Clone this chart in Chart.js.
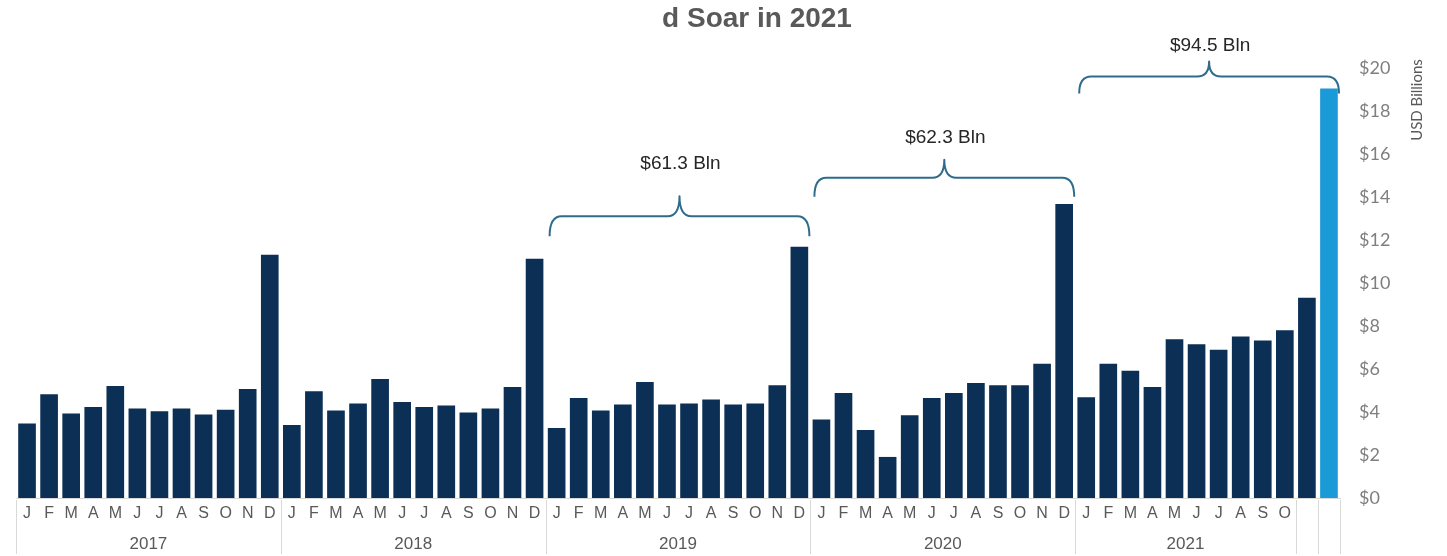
<!DOCTYPE html>
<html>
<head>
<meta charset="utf-8">
<script src="https://cdn.jsdelivr.net/npm/chart.js@4.4.1/dist/chart.umd.min.js"></script>
<style>
  html, body { margin: 0; padding: 0; background: #fff; }
  #wrap { position: relative; width: 1447px; height: 556px; }
</style>
</head>
<body>
<div id="wrap"><canvas id="chartMonthly"></canvas></div>
<script>
'use strict';

// ---- data (USD billions, monthly) ----
const MONTHS      = ['J','F','M','A','M','J','J','A','S','O','N','D'];
const MONTHS_2021 = ['J','F','M','A','M','J','J','A','S','O','',''];
const V2017 = [3.46, 4.83, 3.93, 4.23, 5.21, 4.16, 4.04, 4.16, 3.88, 4.10, 5.07, 11.31];
const V2018 = [3.39, 4.97, 4.07, 4.40, 5.53, 4.46, 4.23, 4.30, 3.98, 4.16, 5.16, 11.13];
const V2019 = [3.26, 4.65, 4.07, 4.35, 5.39, 4.35, 4.40, 4.58, 4.35, 4.40, 5.24, 11.69];
const V2020 = [3.65, 4.88, 3.16, 1.91, 3.85, 4.65, 4.88, 5.35, 5.25, 5.25, 6.25, 13.67];
const V2021 = [4.69, 6.25, 5.92, 5.16, 7.38, 7.15, 6.90, 7.51, 7.32, 7.80, 9.31, 19.05];

const YEAR_LABELS = ['2017', '2018', '2019', '2020', '2021', '', ''];
const YEAR_SPANS  = [12, 12, 12, 12, 10, 1, 1];

const BRACKET_TEXT = ['$61.3 Bln', '$62.3 Bln', '$94.5 Bln'];
const BRACKET_FROM = [24, 36, 48];
const BRACKET_TO   = [35, 47, 59];

const Y_TICKS_MAX = 20;
const Y_STEP = 2;

const labels = [].concat(MONTHS, MONTHS, MONTHS, MONTHS, MONTHS_2021);
const values = [].concat(V2017, V2018, V2019, V2020, V2021);

const NAVY  = '#0b2f55';
const LIGHT = '#1a9ad6';
const GREY  = '#595959';
const LINE  = '#d9d9d9';

// custom drawing: title, year row, separators, curly brackets, axis title
const decorPlugin = {
  id: 'decor',
  afterDraw(chart, args, opts) {
    const c = chart.ctx;
    const xs = chart.scales.x;
    const ys = chart.scales.y;
    const area = chart.chartArea;
    const step = xs.getPixelForValue(1) - xs.getPixelForValue(0);
    const edgeL = i => xs.getPixelForValue(i) - step / 2;
    const edgeR = i => xs.getPixelForValue(i) + step / 2;

    c.save();

    // title (cropped in the source)
    c.fillStyle = GREY;
    c.font = 'bold 28px "Liberation Sans", Arial, sans-serif';
    c.textAlign = 'center';
    c.textBaseline = 'middle';
    c.fillText('d Soar in 2021', opts.titleX, opts.titleY);

    // year row + separators
    c.strokeStyle = LINE;
    c.lineWidth = 1;
    c.fillStyle = GREY;
    c.font = '17px "Liberation Sans", Arial, sans-serif';
    let idx = 0;
    const H = chart.height;
    YEAR_SPANS.forEach((n, k) => {
      const x0 = Math.round(edgeL(idx)) + 0.5;
      c.beginPath(); c.moveTo(x0, area.bottom + 2); c.lineTo(x0, H - 2); c.stroke();
      const x1 = edgeR(idx + n - 1);
      if (YEAR_LABELS[k]) c.fillText(YEAR_LABELS[k], (edgeL(idx) + x1) / 2, opts.yearY);
      idx += n;
    });
    const xEnd = Math.round(edgeR(idx - 1)) + 0.5;
    c.beginPath(); c.moveTo(xEnd, area.bottom + 2); c.lineTo(xEnd, H - 2); c.stroke();

    // curly brackets
    c.strokeStyle = opts.bracketColor;
    c.lineWidth = 2;
    c.lineJoin = 'round';
    opts.brackets.forEach((b, k) => {
      const x1 = edgeL(BRACKET_FROM[k]) + 4;
      const x2 = edgeR(BRACKET_TO[k]) - 1;
      const xm = (x1 + x2) / 2;
      const yH = ys.getPixelForValue(b.level);
      const yE = yH + b.drop;
      const yT = yH - b.tip;
      const r = 12;
      c.beginPath();
      c.moveTo(x1, yE);
      c.quadraticCurveTo(x1, yH, x1 + r, yH);
      c.lineTo(xm - r, yH);
      c.quadraticCurveTo(xm, yH, xm, yT);
      c.quadraticCurveTo(xm, yH, xm + r, yH);
      c.lineTo(x2 - r, yH);
      c.quadraticCurveTo(x2, yH, x2, yE);
      c.stroke();

      c.fillStyle = '#262626';
      c.font = '19px "Liberation Sans", Arial, sans-serif';
      c.fillText(BRACKET_TEXT[k], xm + 1, yH - b.textLift);
    });

    // rotated axis title at top right
    c.translate(opts.axisTitleX, opts.axisTitleY);
    c.rotate(-Math.PI / 2);
    c.fillStyle = GREY;
    c.font = '15px Lato, "Open Sans", sans-serif';
    c.textAlign = 'center';
    c.fillText('USD Billions', 0, 0);

    c.restore();
  }
};

const ctx = document.getElementById('chartMonthly');
new Chart(ctx, {
  type: 'bar',
  data: {
    labels,
    datasets: [{
      data: values,
      backgroundColor: c => c.dataIndex === values.length - 1 ? LIGHT : NAVY,
      barPercentage: 0.8,
      categoryPercentage: 1.0,
    }]
  },
  options: {
    responsive: true,
    maintainAspectRatio: false,
    devicePixelRatio: 1,
    animation: false,
    layout: { padding: { left: 16, top: 68, right: 0, bottom: 0 } },
    plugins: {
      legend: { display: false },
      tooltip: { enabled: false },
      decor: {
        titleX: 757, titleY: 19,
        yearY: 544,
        axisTitleX: 1417, axisTitleY: 100,
        bracketColor: '#2f6c8c',
        brackets: [
          { level: 13.1, drop: 20, tip: 20, textLift: 53 },
          { level: 14.9, drop: 19, tip: 18, textLift: 40 },
          { level: 19.6, drop: 17, tip: 15, textLift: 31 },
        ]
      }
    },
    scales: {
      x: {
        grid: { display: false, drawTicks: false },
        border: { display: true, color: LINE },
        ticks: {
          color: GREY,
          font: { family: '"Liberation Sans", Arial, sans-serif', size: 16 },
          padding: 6,
          autoSkip: false,
          maxRotation: 0,
        },
        afterFit: s => { s.height = 58; }
      },
      y: {
        position: 'right',
        min: 0,
        max: Y_TICKS_MAX,
        grid: { display: false, drawTicks: false },
        border: { display: false },
        ticks: {
          stepSize: Y_STEP,
          color: '#7f7f7f',
          font: { family: 'Lato, "Open Sans", sans-serif', size: 18 },
          padding: 19,
          callback: v => '$' + v,
        },
        afterFit: s => { s.width = 107; }
      }
    }
  },
  plugins: [decorPlugin]
});
</script>
</body>
</html>
